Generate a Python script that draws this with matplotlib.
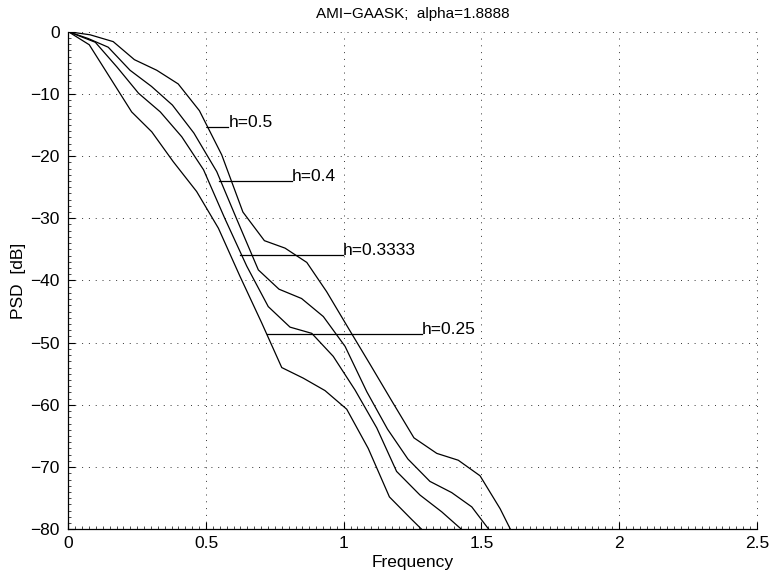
import matplotlib
matplotlib.use("Agg")
import matplotlib.pyplot as plt
from matplotlib.ticker import MultipleLocator

plt.rcParams["font.family"] = ["Liberation Sans", "DejaVu Sans"]
plt.rcParams["font.size"] = 12.5

# PSD curves (frequency, dB)
f_h50 = [0, 0.079, 0.163, 0.240, 0.321, 0.399, 0.476, 0.557, 0.634, 0.712, 0.787,
         0.866, 0.938, 1.016, 1.096, 1.175, 1.255, 1.338, 1.416, 1.495, 1.568, 1.646]
psd_h50 = [0, -0.5, -1.6, -4.5, -6.2, -8.4, -12.7, -19.8, -29.0, -33.6, -34.8,
           -37.1, -41.8, -47.6, -53.5, -59.4, -65.3, -67.8, -68.9, -71.4, -76.7, -83.6]

f_h40 = [0, 0.072, 0.145, 0.224, 0.302, 0.378, 0.456, 0.539, 0.614, 0.690, 0.765,
         0.847, 0.926, 1.005, 1.084, 1.159, 1.233, 1.313, 1.392, 1.465, 1.542]
psd_h40 = [0, -1.1, -2.5, -6.2, -8.8, -11.8, -16.3, -22.5, -30.4, -38.3, -41.4,
           -42.9, -45.8, -50.6, -57.9, -63.9, -68.7, -72.3, -74.1, -76.4, -80.9]

f_h33 = [0, 0.098, 0.177, 0.255, 0.334, 0.412, 0.491, 0.569, 0.648, 0.726, 0.805,
         0.884, 0.962, 1.041, 1.120, 1.192, 1.277, 1.356, 1.435]
psd_h33 = [0, -1.7, -5.7, -9.9, -12.9, -16.9, -22.2, -30.1, -37.7, -44.2, -47.5,
           -48.5, -52.2, -57.6, -63.7, -70.7, -74.5, -77.2, -80.3]

f_h25 = [0, 0.076, 0.153, 0.230, 0.303, 0.381, 0.466, 0.545, 0.623, 0.702, 0.775,
         0.853, 0.932, 1.011, 1.089, 1.166, 1.244, 1.322]
psd_h25 = [0, -2.1, -7.5, -12.9, -16.1, -20.9, -25.7, -31.6, -39.3, -46.8, -54.0,
           -55.7, -57.7, -60.7, -67.0, -74.8, -78.3, -81.7]

# labels with their leader lines: text, y level, line start x, line end x
labels = ["h=0.5", "h=0.4", "h=0.3333", "h=0.25"]
label_y = [-15.3, -24.0, -35.9, -48.6]
label_x0 = [0.503, 0.548, 0.624, 0.723]
label_x1 = [0.581, 0.811, 0.996, 1.283]

fig = plt.figure(figsize=(7.71, 5.78), dpi=100)
ax = fig.add_axes([0.0886, 0.0843, 0.8930, 0.8609])

for f, p in [(f_h50, psd_h50), (f_h40, psd_h40), (f_h33, psd_h33), (f_h25, psd_h25)]:
    ax.plot(f, p, color="black", linewidth=0.9)

for txt, y, x0, x1 in zip(labels, label_y, label_x0, label_x1):
    ax.plot([x0, x1], [y, y], color="black", linewidth=0.9)
    ax.text(x1, y, txt, ha="left", va="baseline", fontsize=12.5)

ax.set_xlim(0, 2.5)
ax.set_ylim(-80, 0)
ax.set_xticks([0, 0.5, 1, 1.5, 2, 2.5])
ax.set_xticklabels(["0", "0.5", "1", "1.5", "2", "2.5"])
ax.set_yticks(range(-80, 1, 10))
ax.xaxis.set_minor_locator(MultipleLocator(0.025))
ax.yaxis.set_minor_locator(MultipleLocator(1))
ax.tick_params(axis="y", which="major", pad=6)
ax.tick_params(axis="x", which="major", pad=5)
ax.tick_params(which="major", direction="in", length=5, width=0.8, labelsize=12.5)
ax.tick_params(which="minor", direction="in", length=2, width=0.5)
ax.tick_params(top=False, right=False, which="both")

ax.spines["top"].set_visible(False)
ax.spines["right"].set_visible(False)
ax.spines["left"].set_linewidth(0.9)
ax.spines["bottom"].set_linewidth(0.9)

ax.grid(True, which="major", color="0.2", linestyle=(0, (1, 6)), linewidth=0.7)
ax.set_axisbelow(True)
for line in ax.get_xgridlines() + ax.get_ygridlines():
    line.set_clip_on(False)

ax.set_title("AMI\u2212GAASK;  alpha=1.8888", fontsize=11, pad=10,
             family=["Liberation Sans Narrow", "Liberation Sans", "DejaVu Sans"])
ax.set_xlabel("Frequency", fontsize=12.5, labelpad=3)
ax.set_ylabel("PSD  [dB]", fontsize=12.5, labelpad=3)

fig.savefig("out.png", dpi=100)
